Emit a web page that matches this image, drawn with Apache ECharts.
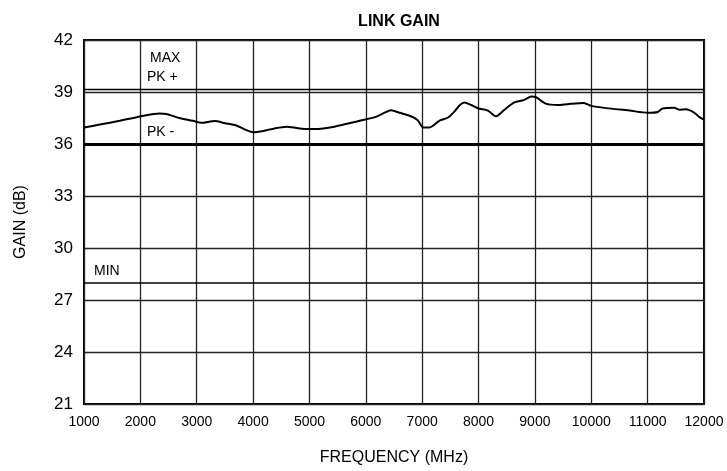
<!DOCTYPE html>
<html>
<head>
<meta charset="utf-8">
<script src="https://cdn.jsdelivr.net/npm/echarts@6/dist/echarts.min.js"></script>
<style>
  html, body { margin: 0; padding: 0; background: #fff; }
  #chart { width: 727px; height: 471px; }
</style>
</head>
<body>
<div id="chart"></div>
<script>
var freq = [1000, 1280, 1635, 2000, 2340, 2460, 2690, 2930, 3080, 3320, 3500, 3700, 3850, 4000, 4180,
    4380, 4590, 4800, 5000, 5200, 5440, 5605, 5840, 6190, 6450, 6600, 6800, 6920, 7020, 7120,
    7310, 7460, 7580, 7670, 7750, 7870, 8000, 8165, 8310, 8460, 8635, 8800, 8940, 9020, 9190,
    9400, 9575, 9870, 10000, 10265, 10676, 11000, 11180, 11260, 11470, 11560, 11680, 11830, 11920, 12000];
var gain = [36.95, 37.12, 37.34, 37.59, 37.76, 37.73, 37.5, 37.34, 37.22, 37.32, 37.2, 37.07, 36.84, 36.68, 36.75,
    36.9, 37.0, 36.91, 36.86, 36.88, 37.0, 37.12, 37.3, 37.58, 37.95, 37.8, 37.6, 37.37, 36.95, 36.95,
    37.35, 37.53, 37.9, 38.25, 38.4, 38.25, 38.05, 37.93, 37.6, 37.98, 38.4, 38.53, 38.74, 38.7, 38.33,
    38.25, 38.3, 38.37, 38.2, 38.07, 37.93, 37.8, 37.85, 38.04, 38.09, 37.98, 38.0, 37.8, 37.55, 37.4];

// spec limits
var maxPk = 39.13;
var minPkLine = 36;
var minLine = 28;

var points = freq.map(function (f, i) { return [f, gain[i]]; });

var option = {
    animation: false,
    backgroundColor: '#fff',
    title: {
        text: 'LINK GAIN',
        left: 394,
        textAlign: 'center',
        top: 9,
        textStyle: {
            fontFamily: 'Liberation Sans Narrow, Liberation Sans, sans-serif',
            fontWeight: 'bold',
            fontSize: 16,
            color: '#000'
        }
    },
    grid: {
        left: 84,
        right: 23,
        top: 40,
        bottom: 67,
        show: true,
        borderColor: '#000',
        borderWidth: 2
    },
    xAxis: {
        type: 'value',
        min: 1000,
        max: 12000,
        interval: 1000,
        name: 'FREQUENCY (MHz)',
        nameLocation: 'center',
        nameGap: 46,
        nameTextStyle: {
            fontFamily: 'Liberation Sans, sans-serif',
            fontSize: 16,
            color: '#000'
        },
        axisLine: { show: false },
        axisTick: { show: false },
        axisLabel: {
            margin: 11,
            formatter: function (v) { return String(v); },
            fontFamily: 'Liberation Sans Narrow, Liberation Sans, sans-serif',
            fontSize: 14,
            color: '#000'
        },
        splitLine: { show: true, lineStyle: { color: '#222', width: 1.3 } }
    },
    yAxis: {
        type: 'value',
        min: 21,
        max: 42,
        interval: 3,
        name: 'GAIN (dB)',
        nameLocation: 'center',
        nameGap: 55,
        nameTextStyle: {
            fontFamily: 'Liberation Sans, sans-serif',
            fontSize: 16,
            color: '#000'
        },
        axisLine: { show: false },
        axisTick: { show: false },
        axisLabel: {
            margin: 11,
            fontFamily: 'Liberation Sans, sans-serif',
            fontSize: 17,
            color: '#000'
        },
        splitLine: { show: true, lineStyle: { color: '#222', width: 1.3 } }
    },
    series: [{
        type: 'line',
        data: points,
        symbol: 'none',
        smooth: 0.25,
        lineStyle: { color: '#000', width: 2 },
        markLine: {
            symbol: 'none',
            silent: true,
            label: { show: false },
            data: [
                { yAxis: maxPk, lineStyle: { color: '#000', width: 1.3, type: 'solid' } },
                { yAxis: minPkLine, lineStyle: { color: '#000', width: 3, type: 'solid' } },
                { yAxis: minLine, lineStyle: { color: '#000', width: 1.6, type: 'solid' } }
            ]
        }
    }],
    graphic: [
        { type: 'text', left: 150, top: 51, style: { text: 'MAX', font: '14px Liberation Sans, sans-serif', fill: '#000' } },
        { type: 'text', left: 147, top: 70, style: { text: 'PK +', font: '14px Liberation Sans, sans-serif', fill: '#000' } },
        { type: 'text', left: 147, top: 125, style: { text: 'PK -', font: '14px Liberation Sans, sans-serif', fill: '#000' } },
        { type: 'text', left: 94, top: 264, style: { text: 'MIN', font: '14px Liberation Sans, sans-serif', fill: '#000' } }
    ]
};

var chart = echarts.init(document.getElementById('chart'));
chart.setOption(option);
</script>
</body>
</html>
